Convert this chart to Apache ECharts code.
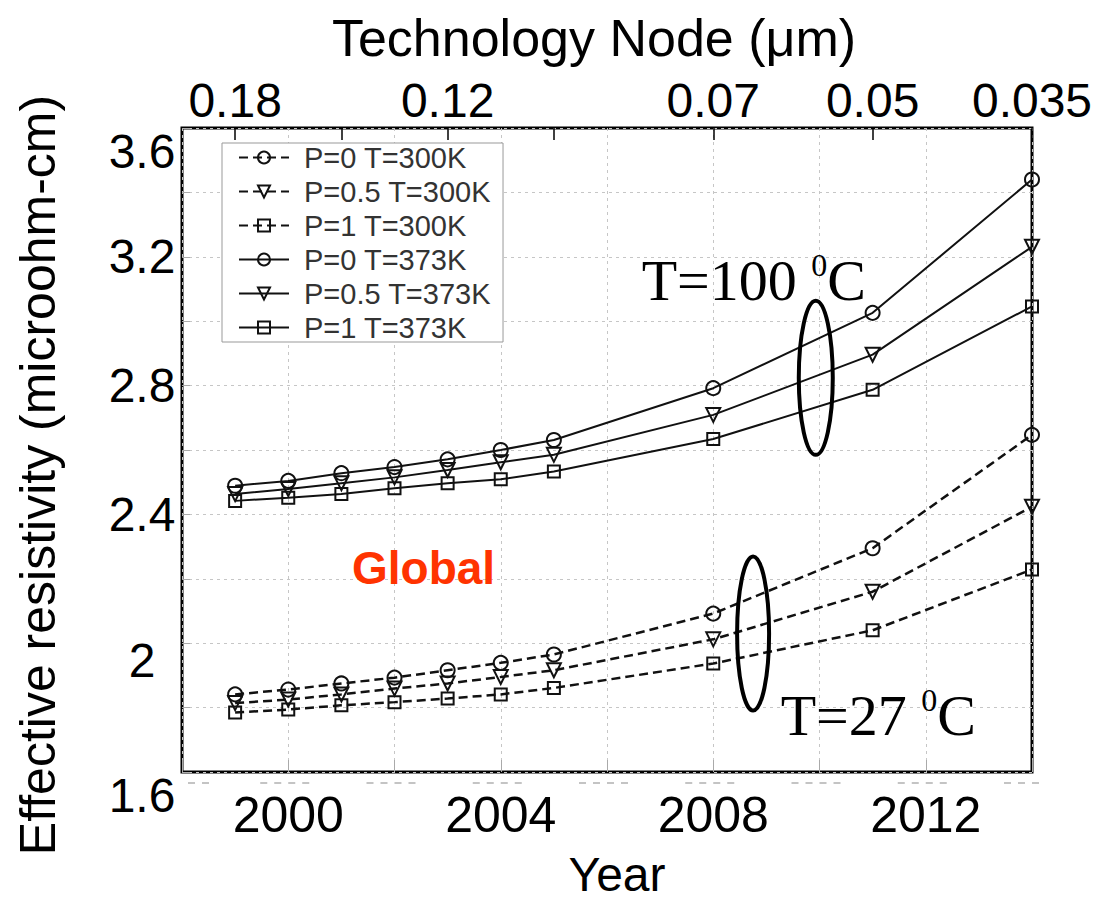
<!DOCTYPE html>
<html>
<head>
<meta charset="utf-8">
<script src="https://cdn.jsdelivr.net/npm/echarts@6/dist/echarts.min.js"></script>
<style>
  html, body { margin: 0; padding: 0; background: #fff; }
  #chart { width: 1096px; height: 901px; }
</style>
</head>
<body>
<div id="chart"></div>
<script>
// Years of the roadmap points
const years = [1999, 2000, 2001, 2002, 2003, 2004, 2005, 2008, 2011, 2014];

// Effective resistivity (microohm-cm), room temperature (300 K)
const p0_300  = [1.841, 1.856, 1.875, 1.893, 1.916, 1.939, 1.965, 2.092, 2.295, 2.647];
const p05_300 = [1.814, 1.825, 1.841, 1.859, 1.875, 1.895, 1.916, 2.012, 2.160, 2.424];
const p1_300  = [1.785, 1.794, 1.807, 1.817, 1.828, 1.841, 1.861, 1.937, 2.040, 2.229];

// Effective resistivity (microohm-cm), 373 K
const p0_373  = [2.489, 2.504, 2.528, 2.547, 2.571, 2.600, 2.631, 2.792, 3.026, 3.440];
const p05_373 = [2.463, 2.479, 2.497, 2.515, 2.538, 2.562, 2.585, 2.709, 2.896, 3.231];
const p1_373  = [2.442, 2.452, 2.463, 2.481, 2.497, 2.509, 2.533, 2.634, 2.787, 3.046];

const seriesNames = [
  'P=0 T=300K', 'P=0.5 T=300K', 'P=1 T=300K',
  'P=0 T=373K', 'P=0.5 T=373K', 'P=1 T=373K'
];

// Technology node axis (top)
const nodeYears = [1999, 2003, 2008, 2011, 2014];
const nodeLabels = ['0.18', '0.12', '0.07', '0.05', '0.035'];
const nodeTickYears = [1999, 2001, 2003, 2005, 2008, 2011, 2014];

// Bottom year labels
const yearLabels = [2000, 2004, 2008, 2012];

const SANS = "'Liberation Sans', Arial, sans-serif";
const SERIF = "'Liberation Serif', 'Times New Roman', serif";

function makeSeries(name, values, symbol, rotate, dashed) {
  return {
    name: name,
    type: 'line',
    xAxisIndex: 0,
    yAxisIndex: 0,
    data: years.map((y, i) => [y, values[i]]),
    symbol: symbol,
    symbolSize: symbol === 'rect' ? 12 : 14,
    symbolRotate: rotate,
    showSymbol: true,
    lineStyle: { color: '#111', width: dashed ? 2.5 : 2, type: dashed ? [9, 5] : 'solid' },
    itemStyle: { color: 'transparent', borderColor: '#111', borderWidth: 2 },
    emphasis: { disabled: true },
    silent: true,
    animation: false
  };
}

const chart = echarts.init(document.getElementById('chart'), null, { renderer: 'svg' });

const yLabelRich = {
  n: { fontFamily: SANS, fontSize: 48, color: '#000' },
  lo: { fontFamily: SANS, fontSize: 48, color: '#000', padding: [46, 0, 0, 0] },
  mid: { fontFamily: SANS, fontSize: 48, color: '#000', padding: [34, 0, 0, 0] }
};

const option = {
  backgroundColor: '#fff',
  animation: false,
  grid: {
    left: 182, right: 64, top: 128, bottom: 129,
    show: true, borderColor: '#000', borderWidth: 3, backgroundColor: 'transparent'
  },
  legend: {
    orient: 'vertical',
    left: 222, top: 143,
    data: seriesNames,
    itemWidth: 50, itemHeight: 15, itemGap: 5,
    padding: [0, 12, 0, 16],
    backgroundColor: '#fff',
    borderColor: '#999', borderWidth: 1,
    selectedMode: false,
    textStyle: { fontFamily: SANS, fontSize: 29, lineHeight: 26, color: '#333', padding: [0, 0, 0, 10] }
  },
  xAxis: [
    {
      type: 'value', position: 'bottom',
      min: 1998, max: 2014, interval: 2,
      axisLine: { show: false },
      axisTick: { show: true, inside: true, length: 12, lineStyle: { color: '#aaa', width: 1 } },
      splitLine: { show: true, lineStyle: { color: '#c6c6c6', type: [3, 4], width: 1 } },
      axisLabel: {
        fontFamily: SANS, fontSize: 50, color: '#000', margin: 18,
        formatter: v => (yearLabels.indexOf(v) >= 0 ? String(v) : '')
      }
    },
    {
      type: 'value', position: 'top',
      min: 1998, max: 2014,
      axisLine: { show: false },
      axisTick: {
        show: true, inside: true, length: 12,
        customValues: nodeTickYears,
        lineStyle: { color: '#000', width: 1.5 }
      },
      splitLine: { show: false },
      axisLabel: {
        fontFamily: SANS, fontSize: 48, color: '#000', margin: 4,
        customValues: nodeYears,
        formatter: v => {
          const i = nodeYears.indexOf(Math.round(v));
          return i >= 0 ? nodeLabels[i] : '';
        }
      }
    }
  ],
  yAxis: {
    type: 'value',
    min: 1.6, max: 3.6, interval: 0.2,
    axisLine: { show: false },
    axisTick: { show: true, inside: true, length: 8, lineStyle: { color: '#aaa' } },
    splitLine: { show: true, lineStyle: { color: '#c6c6c6', type: [3, 4], width: 1 } },
    axisLabel: {
      fontFamily: SANS, fontSize: 48, color: '#000', margin: 40, align: 'center',
      rich: yLabelRich,
      formatter: v => {
        const k = Math.round(v * 10);
        if (k % 4 !== 0) return '';
        const s = String(k / 10);
        if (k === 36 || k === 16) return '{lo|' + s + '}';
        if (k === 20) return '{mid|' + s + '}';
        return '{n|' + s + '}';
      }
    }
  },
  series: [
    makeSeries(seriesNames[0], p0_300, 'circle', 0, true),
    makeSeries(seriesNames[1], p05_300, 'triangle', 180, true),
    makeSeries(seriesNames[2], p1_300, 'rect', 0, true),
    makeSeries(seriesNames[3], p0_373, 'circle', 0, false),
    makeSeries(seriesNames[4], p05_373, 'triangle', 180, false),
    makeSeries(seriesNames[5], p1_373, 'rect', 0, false)
  ]
};

chart.setOption(option);

// Annotations: axis titles, labels and group ellipses
const px = (x, y) => chart.convertToPixel({ gridIndex: 0 }, [x, y]);
const eHot = px(2009.93, 2.824);
const eCold = px(2008.75, 2.03);

const annoRich = {
  a: { fontFamily: SERIF, fontSize: 58, fill: '#000', verticalAlign: 'bottom', lineHeight: 60 },
  s: { fontFamily: SERIF, fontSize: 32, fill: '#000', verticalAlign: 'top', lineHeight: 60 }
};

const graphics = [
  {
    type: 'text', x: 594, y: 38,
    style: { text: 'Technology Node (\u03bcm)', font: '52px ' + SANS, fill: '#000', align: 'center', verticalAlign: 'middle' }
  },
  {
    type: 'text', x: 617, y: 874,
    style: { text: 'Year', font: '48px ' + SANS, fill: '#000', align: 'center', verticalAlign: 'middle' }
  },
  {
    type: 'text', x: 38, y: 475, rotation: Math.PI / 2,
    style: { text: 'Effective resistivity (microohm-cm)', font: '50px ' + SANS, fill: '#000', align: 'center', verticalAlign: 'middle' }
  },
  {
    type: 'text', x: 352, y: 568,
    style: { text: 'Global', font: 'bold 46px ' + SANS, fill: '#ff3300', align: 'left', verticalAlign: 'middle' }
  },
  {
    type: 'text', x: 866, y: 279,
    style: { text: '{a|T=100 }{s|0}{a|C}', align: 'right', verticalAlign: 'middle', rich: annoRich }
  },
  {
    type: 'text', x: 976, y: 714,
    style: { text: '{a|T=27 }{s|0}{a|C}', align: 'right', verticalAlign: 'middle', rich: annoRich }
  },
  {
    type: 'ellipse', shape: { cx: eHot[0], cy: eHot[1], rx: 17, ry: 77 },
    style: { fill: 'none', stroke: '#000', lineWidth: 4 }, z: 100
  },
  {
    type: 'ellipse', shape: { cx: eCold[0], cy: eCold[1], rx: 16, ry: 77 },
    style: { fill: 'none', stroke: '#000', lineWidth: 4 }, z: 100
  }
];

// faint dotted marks beneath the frame, one group per grid column
const baseY = px(1998, 1.6)[1] + 11;
for (let yr = 1998; yr <= 2014; yr += 2) {
  const cx = px(yr, 1.6)[0];
  const x1 = Math.max(cx - 28, 188);
  const x2 = Math.min(cx + 28, 1046);
  graphics.push({
    type: 'line', shape: { x1: x1, y1: baseY, x2: x2, y2: baseY },
    style: { stroke: '#c4c4c4', lineWidth: 2, lineDash: [7, 7] }, silent: true
  });
}

chart.setOption({ graphic: graphics });
</script>
</body>
</html>
